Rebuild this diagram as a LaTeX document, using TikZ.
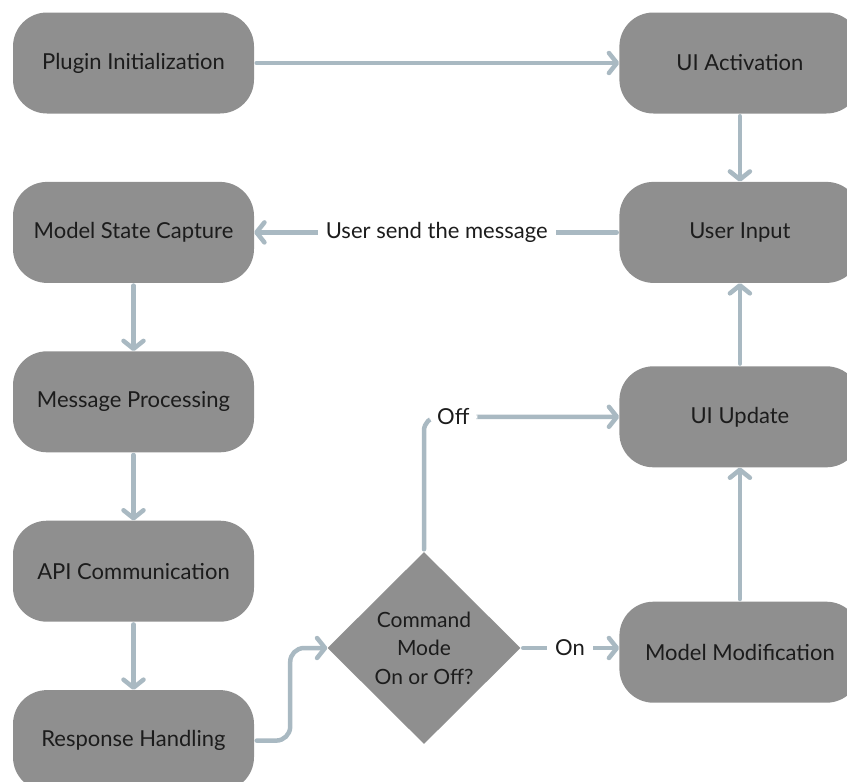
\documentclass[tikz,border=0pt]{standalone}
\usepackage{fontspec}
\setmainfont{Lato}
\usetikzlibrary{positioning, shapes.geometric, arrows.meta}
\definecolor{boxgray}{HTML}{8F8F8F}
\definecolor{linkblue}{HTML}{A9B9C2}
\definecolor{inkdark}{HTML}{1C1C1C}
\tikzset{
    proc/.style={rectangle, rounded corners=34pt, fill=boxgray, text=inkdark, minimum width=241pt, minimum height=101pt, font=\fontsize{22}{26}\selectfont},
    cond/.style={diamond, fill=boxgray, text=inkdark, minimum width=193pt, minimum height=192pt, inner sep=0pt, align=center, font=\fontsize{21}{28.5}\selectfont},
    link/.style={draw=linkblue, line width=4.5pt, line cap=round, shorten <=2.5pt, -{Straight Barb[round, length=8pt, width=20pt]}},
    lbl/.style={fill=white, text=inkdark, inner xsep=8pt, inner ysep=3pt, font=\fontsize{22}{26}\selectfont},
}
\begin{document}
\begin{tikzpicture}[x=1pt, y=1pt]
    \clip (0,0) rectangle (847,-782);
    \useasboundingbox (0,0) rectangle (847,-782);
    % left column
    \node [proc] (pi) at (133.5,-63) {Plugin Initialization};
    \node [proc] (msc) [below=68pt of pi] {Model State Capture};
    \node [proc] (mp) [below=68pt of msc] {Message Processing};
    \node [proc] (api) [below=68pt of mp] {API Communication};
    \node [proc] (rh) [below=68pt of api] {Response Handling};
    % right column
    \node [proc] (ua) [right=365pt of pi] {UI Activation};
    \node [proc] (ui) [below=68pt of ua] {User Input};
    \node [proc] (uu) [below=83pt of ui] {UI Update};
    \node [proc] (mm) [below=134pt of uu] {Model Modification};
    % decision
    \node [cond] (dm) at (424,-648) {Command\\Mode\\On or Off?};
    \draw[link] (pi) -- (ua);
    \draw[link] (ua) -- (ui);
    \draw[link] (ui) -- node[lbl] {User send the message} (msc);
    \draw[link] (msc) -- (mp);
    \draw[link] (mp) -- (api);
    \draw[link] (api) -- (rh);
    \draw[link, rounded corners=14pt] (rh.east) -- ++(36,0) |- (dm.west);
    \draw[link, rounded corners=14pt] (dm.north) |- node[lbl, pos=0.575] {Off} (uu.west);
    \draw[link] (dm.east) -- node[lbl] {On} (dm.east -| mm.west);
    \draw[link] (mm) -- (uu);
    \draw[link] (uu) -- (ui);
\end{tikzpicture}
\end{document}
